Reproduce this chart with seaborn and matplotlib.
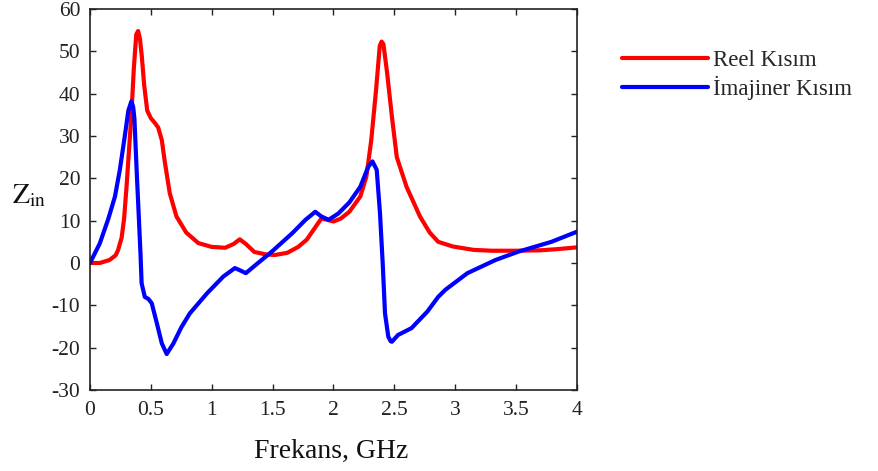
import numpy as np
import pandas as pd
import matplotlib
matplotlib.use("Agg")
import matplotlib.pyplot as plt
import seaborn as sns

# ---- data ----
freq_reel = [0.00, 0.08, 0.16, 0.21, 0.23, 0.26, 0.28, 0.30, 0.32, 0.34, 0.36, 0.38, 0.395,
             0.41, 0.425, 0.445, 0.47, 0.50, 0.535, 0.56, 0.59, 0.615, 0.655, 0.71, 0.79,
             0.89, 1.00, 1.11, 1.18, 1.23, 1.28, 1.35, 1.45, 1.52, 1.62, 1.71, 1.78, 1.84,
             1.90, 1.95, 2.00, 2.06, 2.13, 2.22, 2.27, 2.31, 2.35, 2.38, 2.395, 2.41, 2.44,
             2.48, 2.52, 2.60, 2.71, 2.79, 2.86, 2.98, 3.15, 3.30, 3.50, 3.70, 3.85, 4.00]
reel = [0.0, 0.0, 0.7, 1.8, 3.0, 6.0, 10.5, 18.0, 26.5, 35.0, 46.0, 54.0, 54.8,
        53.0, 49.0, 42.0, 36.0, 34.2, 33.0, 32.0, 29.0, 23.8, 16.5, 11.0, 7.2,
        4.7, 3.8, 3.6, 4.5, 5.6, 4.5, 2.6, 2.0, 1.9, 2.4, 3.8, 5.5, 8.0,
        10.5, 10.2, 9.8, 10.5, 12.1, 15.7, 20.4, 29.0, 41.0, 51.3, 52.3, 51.7, 45.0,
        34.5, 25.0, 18.0, 11.0, 7.2, 5.0, 3.9, 3.1, 2.9, 2.9, 3.0, 3.3, 3.7]

freq_imaj = [0.00, 0.08, 0.15, 0.205, 0.245, 0.285, 0.315, 0.34, 0.355, 0.365, 0.383, 0.402,
             0.415, 0.424, 0.45, 0.48, 0.507, 0.547, 0.59, 0.63, 0.685, 0.75, 0.82, 0.96,
             1.095, 1.19, 1.23, 1.28, 1.38, 1.49, 1.66, 1.77, 1.85, 1.90, 1.96, 2.04, 2.13,
             2.22, 2.285, 2.32, 2.355, 2.382, 2.404, 2.423, 2.45, 2.47, 2.48, 2.53, 2.64,
             2.70, 2.77, 2.86, 2.92, 3.10, 3.33, 3.52, 3.79, 4.00]
imaj = [0.0, 4.6, 10.4, 15.7, 22.0, 29.8, 36.0, 38.2, 36.8, 34.0, 22.0, 10.2,
        2.0, -4.8, -8.0, -8.5, -9.5, -14.0, -19.0, -21.5, -19.0, -15.2, -11.9, -7.2,
        -3.2, -1.2, -1.7, -2.4, 0.0, 2.6, 7.0, 10.2, 12.1, 11.0, 10.2, 11.7, 14.3,
        18.0, 22.7, 24.0, 22.0, 11.7, 0.0, -11.9, -17.4, -18.5, -18.6, -17.0, -15.4,
        -13.6, -11.5, -8.0, -6.3, -2.4, 0.7, 2.7, 5.0, 7.4]

series_labels = ["Reel Kısım", "İmajiner Kısım"]
x_ticks = [0, 0.5, 1, 1.5, 2, 2.5, 3, 3.5, 4]
x_tick_labels = ["0", "0.5", "1", "1.5", "2", "2.5", "3", "3.5", "4"]
y_ticks = [-30, -20, -10, 0, 10, 20, 30, 40, 50, 60]

df = pd.concat([
    pd.DataFrame({"f": freq_reel, "z": reel, "s": series_labels[0]}),
    pd.DataFrame({"f": freq_imaj, "z": imaj, "s": series_labels[1]}),
], ignore_index=True)

sns.set_style("ticks")
plt.rcParams["font.family"] = ["Liberation Serif", "DejaVu Serif"]
plt.rcParams["mathtext.fontset"] = "stix"
plt.rcParams["axes.unicode_minus"] = False

fig = plt.figure(figsize=(8.79, 4.71), dpi=100)
ax = fig.add_axes([90 / 879, 1 - 390 / 471, (577 - 90) / 879, (390 - 9) / 471])

sns.lineplot(data=df, x="f", y="z", hue="s", palette=["#ff0000", "#0000ff"],
             sort=False, estimator=None, linewidth=3.0, legend=False, ax=ax)
for ln in ax.lines:
    ln.set_solid_joinstyle("round")
    ln.set_solid_capstyle("round")

ax.set_xlim(0, 4)
ax.set_ylim(-30, 60)
ax.set_xticks(x_ticks)
ax.set_xticklabels(x_tick_labels)
ax.set_yticks(y_ticks)
ax.set_xlabel("")
ax.set_ylabel("")
ax.tick_params(direction="in", length=4, width=1, labelsize=15.5, top=True, right=True,
               color="#222222", labelcolor="#222222")
ax.tick_params(axis="y", pad=7)
ax.tick_params(axis="x", pad=8)
for sp in ax.spines.values():
    sp.set_visible(True)
    sp.set_linewidth(1.2)
    sp.set_color("#222222")

fig.text(12 / 879, 1 - 196 / 471, r"$\mathrm{Z_{in}}$", fontsize=20, ha="left", va="center",
         color="#111111")
fig.text(331 / 879, 1 - 451 / 471, "Frekans, GHz", fontsize=20, ha="center", va="center",
         color="#111111")

fig.legend(handles=ax.lines[:2], labels=series_labels, loc="upper left",
           bbox_to_anchor=(622 / 879, 1 - 50 / 471), frameon=False, fontsize=16.5,
           borderpad=0, borderaxespad=0, handlelength=3.75, handletextpad=0.2,
           labelspacing=0.2)

fig.savefig("out.png", dpi=100)
